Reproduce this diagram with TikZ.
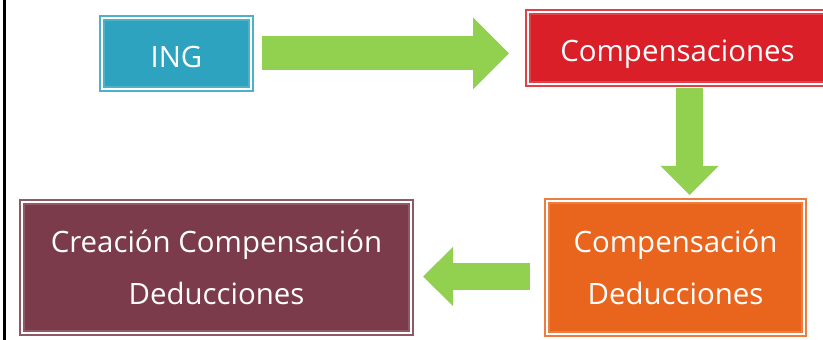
\documentclass[tikz,border=0pt]{standalone}
\usepackage{fontspec}
\setmainfont{Open Sans}
\usetikzlibrary{arrows.meta,shadows}

\definecolor{azulIng}{HTML}{2DA3C0}
\definecolor{rojoComp}{HTML}{DA1F29}
\definecolor{naranjaDed}{HTML}{E9651E}
\definecolor{granateCrea}{HTML}{7B3B4A}
\definecolor{verdeFlecha}{HTML}{92D050}

\tikzset{
    caja/.style={fill=#1, draw=#1!85!white, line width=2pt, double=white, double distance=2pt,
        inner sep=0pt, outer sep=0pt, text=white, align=center,
        font=\fontsize{29.4}{52}\selectfont},
    flecha/.style n args={3}{draw=verdeFlecha, line width=#1,
        -{Triangle[length=#2, width=#3, line width=0pt]}}
}

\begin{document}
\begin{tikzpicture}[x=1pt, y=1pt]
            \useasboundingbox (0, 0) rectangle (823, 340);

            \draw[line width=2.5pt] (4.5, 0) -- (4.5, 340);

            \node[caja=azulIng, minimum width=149pt, minimum height=71pt, text height=28pt, text depth=0pt] (ing) at (176.5, 286.5) {ING};
            \node[caja=rojoComp, minimum width=299pt, minimum height=72pt, text height=28pt, text depth=0pt] (comp) at (677.5, 292) {Compensaciones};
            \node[caja=naranjaDed, minimum width=257pt, minimum height=133pt] (ded) at (675.5, 72.5) {Compensación\\Deducciones};
            \node[caja=granateCrea, minimum width=389pt, minimum height=131pt,
                drop shadow={shadow xshift=2pt, shadow yshift=-1pt, opacity=0.2}] (crea) at (216.5, 72.5) {Creación Compensación\\Deducciones};

            \draw[flecha={34pt}{36pt}{72pt}] ([xshift=11pt]ing.east) -- ([xshift=-19pt]ing.east -| comp.west);
            \draw[flecha={27pt}{29pt}{58pt}] ([xshift=12pt, yshift=-4pt]comp.south) -- ([xshift=12pt, yshift=6pt]comp.south |- ded.north);
            \draw[flecha={27pt}{30pt}{59pt}] ([xshift=-17pt, yshift=-9pt]ded.west) -- ([xshift=12pt, yshift=-9pt]ded.west -| crea.east);

            %\draw[gray!30] (0, 0) grid[step=50] (823, 340);
\end{tikzpicture}
\end{document}
